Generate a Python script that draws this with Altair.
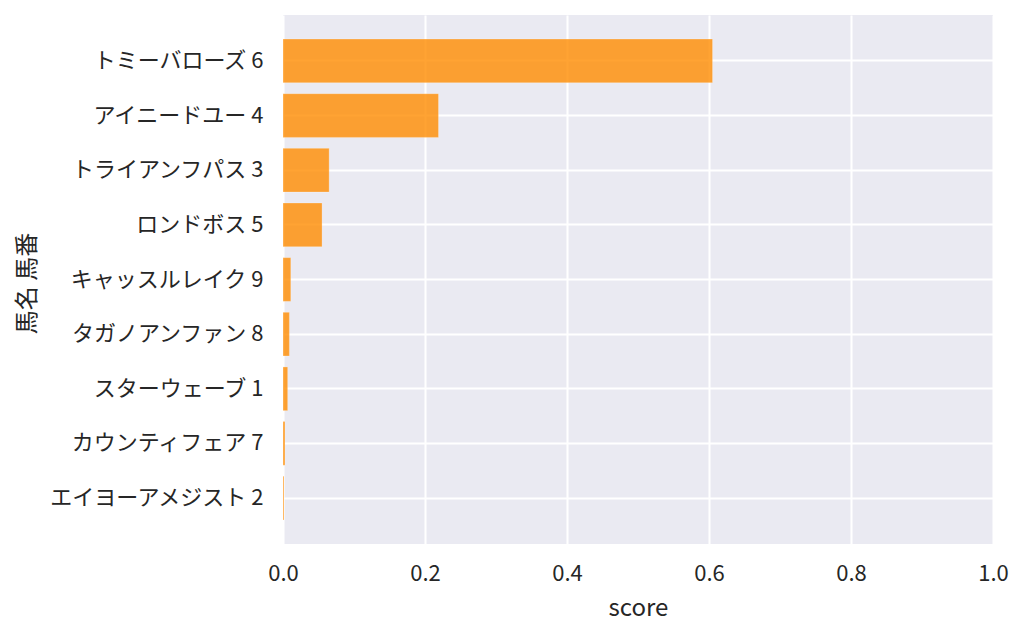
import altair as alt
import pandas as pd

horses = ["トミーバローズ 6", "アイニードユー 4", "トライアンフパス 3", "ロンドボス 5",
          "キャッスルレイク 9", "タガノアンファン 8", "スターウェーブ 1", "カウンティフェア 7",
          "エイヨーアメジスト 2"]
scores = [0.605, 0.219, 0.065, 0.055, 0.011, 0.009, 0.0066, 0.0028, 0.0014]

df = pd.DataFrame({"horse": horses, "score": scores})

FONT = "Noto Sans CJK JP"
TXT = "#262626"

chart = alt.Chart(df).mark_bar(
    fill="#FF8C00", fillOpacity=0.8, stroke="#ffffff", strokeOpacity=0.25, strokeWidth=1
).encode(
    x=alt.X("score:Q", title="score",
            scale=alt.Scale(domain=[0, 1], nice=False, zero=True),
            axis=alt.Axis(values=[0, 0.2, 0.4, 0.6, 0.8, 1.0], format=".1f",
                          grid=True, gridColor="#ffffff", gridWidth=2,
                          domain=False, ticks=False, labelPadding=19, labelFlush=False,
                          labelFontSize=22, titleFontSize=24, titlePadding=12,
                          labelColor=TXT, titleColor=TXT, labelFont=FONT, titleFont=FONT,
                          titleFontWeight="normal")),
    y=alt.Y("horse:N", title="馬名 馬番", sort=horses,
            scale=alt.Scale(paddingInner=0.2, paddingOuter=0.44),
            axis=alt.Axis(grid=True, gridColor="#ffffff", gridWidth=2, bandPosition=0.5,
                          domain=False, ticks=False, labelPadding=20, labelLimit=0,
                          labelFontSize=22, titleFontSize=24,
                          titleX=-256, titleY=268, titleAngle=270,
                          titleAlign="center", titleBaseline="middle",
                          labelColor=TXT, titleColor=TXT, labelFont=FONT, titleFont=FONT,
                          titleFontWeight="normal")),
).properties(
    width=710, height=529,
    background="#ffffff",
    autosize=alt.AutoSizeParams(type="none"),
    padding={"left": 275, "top": 7, "right": 23, "bottom": 82},
).configure_view(
    fill="#EAEAF2", stroke=None
)

chart.save("out.html", embed_options={"renderer": "svg", "actions": False})
